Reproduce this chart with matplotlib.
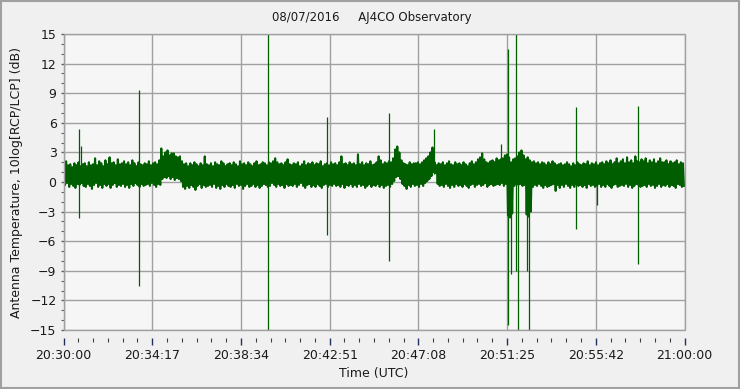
import numpy as np
import matplotlib
matplotlib.use("Agg")
import matplotlib.pyplot as plt
from matplotlib.patches import Rectangle
from matplotlib.ticker import FixedLocator, MultipleLocator

# ---------------- data ----------------
title = "08/07/2016     AJ4CO Observatory"
xlabel = "Time (UTC)"
ylabel = "Antenna Temperature, 10log[RCP/LCP] (dB)"
tick_labels = ["20:30:00", "20:34:17", "20:38:34", "20:42:51",
               "20:47:08", "20:51:25", "20:55:42", "21:00:00"]
duration_s = 1800          # 20:30:00 .. 21:00:00
sample_step = 6            # seconds between successive envelope samples

# upper envelope of the noisy trace (dB), one value per 6 s
trace_hi = [
    1.6, 2.1, 1.7, 1.8, 1.5, 1.9, 1.7, 2.0, 1.6, 1.8,
    1.9, 1.6, 2.0, 1.7, 1.8, 2.4, 1.7, 2.1, 1.9, 1.6,
    2.2, 1.8, 2.5, 1.9, 2.0, 1.7, 2.3, 1.8, 1.9, 2.1,
    1.8, 2.0, 1.7, 2.2, 1.9, 1.6, 2.0, 1.8, 1.7, 1.9,
    1.8, 2.1, 1.7, 1.9, 2.0, 1.8, 2.2, 3.4, 2.6, 3.0,
    3.2, 2.7, 2.9, 2.9, 2.6, 2.5, 2.6, 2.1, 1.8, 1.9,
    1.6, 1.9, 1.7, 2.0, 1.8, 1.6, 1.9, 1.7, 2.6, 1.8,
    1.7, 1.9, 1.6, 2.0, 1.8, 1.7, 2.1, 1.9, 1.6, 1.8,
    1.9, 1.7, 2.0, 1.8, 1.6, 2.1, 1.8, 1.9, 1.7, 2.0,
    1.8, 1.6, 1.9, 2.1, 1.7, 1.8, 2.0, 1.9, 1.7, 2.0,
    1.9, 2.1, 2.4, 2.0, 1.8, 1.9, 1.7, 2.0, 2.3, 1.8,
    1.7, 1.9, 1.8, 2.0, 1.6, 1.8, 2.1, 1.7, 1.9, 1.8,
    2.0, 1.7, 1.9, 1.8, 2.1, 1.6, 1.8, 1.9, 1.7, 2.0,
    1.8, 1.9, 1.7, 2.0, 2.6, 1.8, 1.9, 1.7, 2.0, 1.8,
    1.9, 1.7, 2.8, 1.8, 2.0, 1.7, 1.9, 1.8, 2.1, 1.7,
    1.8, 2.0, 2.6, 2.2, 1.8, 2.0, 1.9, 2.1, 2.0, 2.4,
    3.3, 3.6, 3.0, 2.2, 1.9, 1.8, 1.7, 2.0, 1.8, 1.9,
    1.9, 2.0, 1.8, 2.0, 2.2, 2.4, 2.6, 3.0, 3.5, 2.0,
    1.7, 1.9, 1.8, 2.0, 1.7, 1.9, 2.1, 1.8, 1.7, 2.0,
    1.8, 1.9, 1.7, 2.0, 1.8, 1.6, 1.9, 2.1, 1.8, 2.0,
    2.3, 2.5, 2.9, 2.3, 2.0, 1.9, 2.1, 2.2, 2.0, 2.4,
    2.2, 2.3, 2.4, 2.7, 2.8, 2.5, 2.0, 2.3, 2.4, 2.6,
    3.0, 3.2, 2.7, 2.3, 2.5, 2.2, 2.0, 2.1, 1.9, 2.0,
    1.8, 2.0, 1.9, 1.7, 2.0, 1.8, 2.1, 1.9, 1.7, 1.8,
    1.9, 1.7, 1.8, 2.0, 1.8, 1.6, 1.9, 1.7, 2.0, 1.8,
    1.7, 1.9, 1.8, 2.1, 1.7, 1.9, 1.8, 2.0, 1.7, 1.9,
    2.0, 1.8, 2.1, 1.9, 2.2, 1.8, 2.0, 2.4, 1.9, 2.1,
    2.3, 1.9, 2.5, 2.0, 2.2, 1.9, 2.6, 2.1, 2.0, 2.3,
    2.1, 2.4, 1.9, 2.2, 2.0, 2.3, 1.9, 2.1, 2.4, 2.0,
    2.0, 2.2, 1.8, 2.1, 1.9, 2.0, 2.2, 1.8, 2.0, 1.9,
]

# lower envelope of the noisy trace (dB), one value per 6 s
trace_lo = [
    -0.3, -0.1, -0.5, -0.2, -0.4, -0.6, -0.2, -0.3, -0.1, -0.4,
    -0.5, -0.2, -0.4, -0.7, -0.3, -0.1, -0.5, -0.3, -0.6, -0.2,
    -0.4, -0.2, -0.6, -0.3, -0.1, -0.5, -0.3, -0.4, -0.2, -0.5,
    -0.3, -0.6, -0.2, -0.4, -0.1, -0.3, -0.5, -0.2, -0.4, -0.3,
    -0.2, -0.4, -0.1, -0.3, -0.5, -0.2, -0.3, 0.3, 0.5, 0.4,
    0.6, 0.3, 0.5, 0.2, 0.4, 0.3, 0.1, -0.5, -0.7, -0.4,
    -0.6, -0.3, -0.5, -0.8, -0.4, -0.2, -0.6, -0.3, -0.5, -0.4,
    -0.3, -0.5, -0.2, -0.6, -0.4, -0.7, -0.3, -0.5, -0.2, -0.4,
    -0.5, -0.3, -0.6, -0.2, -0.4, -0.3, -0.7, -0.4, -0.2, -0.5,
    -0.4, -0.2, -0.5, -0.3, -0.6, -0.4, -0.2, -0.3, -0.5, -0.4,
    -0.1, -0.3, -0.5, -0.2, -0.4, -0.3, -0.6, -0.2, -0.4, -0.3,
    -0.4, -0.2, -0.5, -0.3, -0.1, -0.4, -0.6, -0.3, -0.2, -0.5,
    -0.3, -0.5, -0.2, -0.4, -0.6, -0.3, -0.2, -0.5, -0.3, -0.4,
    -0.2, -0.4, -0.3, -0.5, -0.2, -0.6, -0.3, -0.4, -0.2, -0.5,
    -0.3, -0.5, -0.2, -0.4, -0.3, -0.6, -0.4, -0.2, -0.5, -0.3,
    -0.4, -0.2, -0.5, -0.3, -0.6, -0.4, -0.3, -0.5, -0.2, 0.1,
    0.5, 0.6, 0.3, -0.2, -0.4, -0.7, -0.3, -0.5, -0.2, -0.4,
    -0.3, -0.5, -0.2, -0.4, -0.1, 0.1, 0.3, 0.6, 1.0, 0.9,
    -0.2, -0.4, -0.3, -0.5, -0.2, -0.4, -0.6, -0.3, -0.5, -0.2,
    -0.4, -0.3, -0.5, -0.2, -0.4, -0.6, -0.3, -0.2, -0.5, -0.3,
    -0.2, -0.4, -0.3, -0.1, -0.5, -0.3, -0.2, -0.4, -0.3, -0.2,
    -0.3, -0.1, -0.4, -0.2, -3.4, -3.6, -3.2, -0.4, -0.2, -0.3,
    -0.2, -0.4, -0.3, -3.3, -3.5, -3.0, -0.5, -0.3, -0.4, -0.2,
    -0.4, -0.6, -0.3, -0.5, -0.4, -0.3, -0.2, -0.9, -0.3, -0.6,
    -0.3, -0.5, -0.2, -0.4, -0.6, -0.3, -0.5, -0.2, -0.4, -0.3,
    -0.5, -0.3, -0.6, -0.2, -0.4, -0.3, -0.5, -0.4, -0.2, -0.5,
    -0.3, -0.5, -0.2, -0.4, -0.6, -0.3, -0.2, -0.5, -0.4, -0.3,
    -0.4, -0.2, -0.5, -0.3, -0.6, -0.4, -0.2, -0.3, -0.5, -0.4,
    -0.3, -0.5, -0.2, -0.4, -0.3, -0.6, -0.4, -0.2, -0.5, -0.3,
    -0.4, -0.2, -0.5, -0.3, -0.4, -0.6, -0.2, -0.3, -0.5, -0.4,
]

# isolated spikes (seconds after 20:30:00, top dB, bottom dB)
spike_t = [46, 51, 220, 594, 765, 943, 1074, 1269, 1288, 1296,
           1313, 1317, 1343, 1348, 1486, 1546, 1665]
spike_hi = [5.4, 3.6, 9.3, 15.0, 6.6, 7.0, 5.4, 3.9, 13.5, 1.5,
            15.0, 1.5, 1.5, 1.5, 7.6, 1.5, 7.7]
spike_lo = [-3.6, 0.0, -10.5, -15.0, -5.4, -8.0, 0.8, 0.0, -14.5, -9.3,
            -9.0, -15.0, -9.0, -15.0, -4.8, -2.3, -8.3]

# ---------------- figure ----------------
W, H, DPI = 740, 389, 100
fig = plt.figure(figsize=(W / DPI, H / DPI), dpi=DPI, facecolor="#f0f0f0")
ax = fig.add_axes([63.5 / W, 1 - 330 / H, 621 / W, 296 / H])
ax.set_facecolor("#f6f6f6")

grid_c = "#a0a0a0"
green = "#005e00"
text_c = "#1a1a1a"

# trace: interleave upper and lower envelope as a zig-zag line
n = len(trace_hi)
t_hi = np.arange(n) * sample_step + 1.5
t_lo = t_hi + sample_step / 2
t_all = np.column_stack([t_hi, t_lo]).ravel()
v_all = np.column_stack([trace_hi, trace_lo]).ravel()
ax.plot(t_all, v_all, color=green, lw=1.5, zorder=3)
ax.vlines(spike_t, spike_lo, spike_hi, color=green, lw=0.9, zorder=3)

ax.set_xlim(0, duration_s)
ax.set_ylim(-15, 15)

# axes / grid
major_x = np.linspace(0, duration_s, len(tick_labels))
ax.xaxis.set_major_locator(FixedLocator(major_x))
ax.xaxis.set_minor_locator(FixedLocator(np.linspace(0, duration_s, 6 * (len(tick_labels) - 1) + 1)))
ax.set_xticklabels(tick_labels)
ax.yaxis.set_major_locator(MultipleLocator(3))
ax.yaxis.set_minor_locator(MultipleLocator(1))
ax.grid(True, which="major", color=grid_c, lw=1.0, zorder=1)
ax.set_axisbelow(True)

for s in ["top", "right", "bottom"]:
    ax.spines[s].set_visible(False)
ax.spines["left"].set_color(grid_c)
ax.spines["bottom"].set_position(("outward", 6))
ax.add_patch(Rectangle((0, 0), 1, 1, transform=ax.transAxes, fill=False,
                       edgecolor=grid_c, lw=1.0, zorder=4, clip_on=False))

ax.tick_params(axis="x", which="major", length=5, width=1.0, color="#203060",
               labelsize=9, labelcolor=text_c, pad=3)
ax.tick_params(axis="x", which="minor", length=3, width=0.8, color="#404040")
ax.tick_params(axis="y", which="major", length=2, width=1.0, color="#606060",
               labelsize=9, labelcolor=text_c, pad=3)
ax.tick_params(axis="y", which="minor", length=2, width=0.8, color="#606060")

ax.set_xlabel(xlabel, fontsize=9, color=text_c, labelpad=3)
ax.set_ylabel(ylabel, fontsize=9, color=text_c, labelpad=5)
fig.text(372 / W, 1 - 18 / H, title, ha="center", va="center",
         fontsize=8.5, color=text_c)

# outer window frame
fig.patches.append(Rectangle((0.002, 0.003), 0.996, 0.994, transform=fig.transFigure,
                             fill=False, edgecolor="#a0a0a0", lw=1.5))

fig.savefig("out.png", dpi=DPI, facecolor=fig.get_facecolor())
